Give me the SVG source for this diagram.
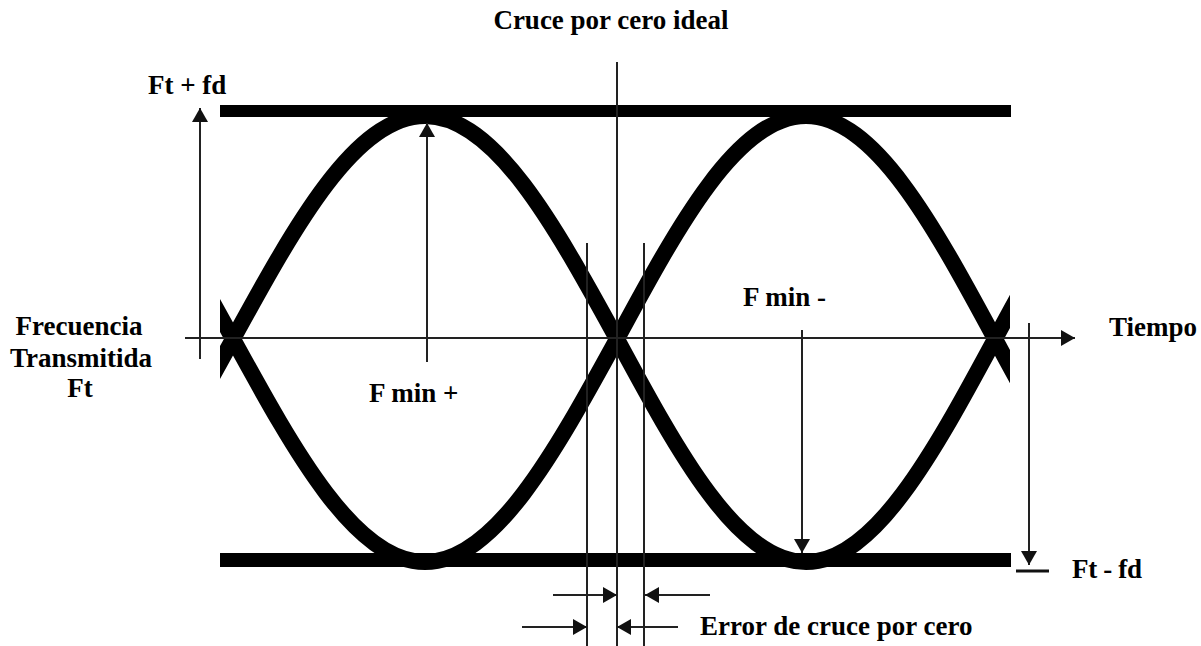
<svg xmlns="http://www.w3.org/2000/svg" width="1201" height="646" viewBox="0 0 1201 646">
<style>
.t{font-family:"Liberation Serif","Times New Roman",serif;font-weight:bold;font-size:27px;fill:#000}
.ln{stroke:#222;stroke-width:2;fill:none}
.eye{stroke:#000;stroke-width:16;fill:none;stroke-linejoin:round}
.bar{fill:#000}
.ah{fill:#111}
</style>
<defs>
<clipPath id="eyeclip"><rect x="220" y="0" width="790" height="646"/></clipPath>
<marker id="arr" markerUnits="userSpaceOnUse" markerWidth="16" markerHeight="18" refX="14" refY="8" orient="auto">
<path d="M0,0 L14,8 L0,16 Z" class="ah"/>
</marker>
</defs>
<rect width="1201" height="646" fill="#fff"/>

<g id="limits">
<rect class="bar" x="220" y="105" width="791" height="12"/>
<rect class="bar" x="220" y="553" width="791" height="14"/>
</g>

<g id="eye" clip-path="url(#eyeclip)">
<path class="eye" d="M41,562 C110.5,562 170.4,453.2 233,339 C295.6,224.8 355.5,116 425,116 C494.5,116 554.4,224.8 617,339 C678.6,453.2 737.6,562 806,562 C874.4,562 933.4,453.2 995,339 C1056.6,224.8 1115.6,116 1184,116"/>
<path class="eye" d="M41,116 C110.5,116 170.4,224.8 233,339 C295.6,453.2 355.5,562 425,562 C494.5,562 554.4,453.2 617,339 C678.6,224.8 737.6,116 806,116 C874.4,116 933.4,224.8 995,339 C1056.6,453.2 1115.6,562 1184,562"/>
</g>

<g id="connectors">
<line class="ln" x1="185" y1="338" x2="1075" y2="338" marker-end="url(#arr)"/>
<line class="ln" x1="617" y1="62" x2="617" y2="646"/>
<line class="ln" x1="587" y1="243" x2="587" y2="646"/>
<line class="ln" x1="644" y1="243" x2="644" y2="646"/>
<line class="ln" x1="200" y1="359" x2="200" y2="108" marker-end="url(#arr)"/>
<line class="ln" x1="427" y1="362" x2="427" y2="123" marker-end="url(#arr)"/>
<line class="ln" x1="802" y1="330" x2="802" y2="553" marker-end="url(#arr)"/>
<line class="ln" x1="1029" y1="323" x2="1029" y2="565" marker-end="url(#arr)"/>
<line x1="1016" y1="571" x2="1049" y2="571" stroke="#111" stroke-width="3"/>
<line class="ln" x1="553" y1="595" x2="617" y2="595" marker-end="url(#arr)"/>
<line class="ln" x1="710" y1="595" x2="645" y2="595" marker-end="url(#arr)"/>
<line class="ln" x1="522" y1="627" x2="587" y2="627" marker-end="url(#arr)"/>
<line class="ln" x1="678" y1="627" x2="617" y2="627" marker-end="url(#arr)"/>
</g>

<g id="label-ideal"><text class="t" x="611" y="29" text-anchor="middle">Cruce por cero ideal</text></g>
<g id="label-ftplus"><text class="t" x="148" y="94">Ft + fd</text></g>
<g id="label-ft"><text class="t" text-anchor="middle"><tspan x="79" y="335">Frecuencia</tspan><tspan x="81" y="367">Transmitida</tspan><tspan x="80" y="397">Ft</tspan></text></g>
<g id="label-fminplus"><text class="t" x="369" y="402">F min +</text></g>
<g id="label-fminminus"><text class="t" x="743" y="306">F min -</text></g>
<g id="label-tiempo"><text class="t" x="1109" y="336">Tiempo</text></g>
<g id="label-ftminus"><text class="t" x="1072" y="578" textLength="70">Ft - fd</text></g>
<g id="label-error"><text class="t" x="700" y="635">Error de cruce por cero</text></g>
</svg>
